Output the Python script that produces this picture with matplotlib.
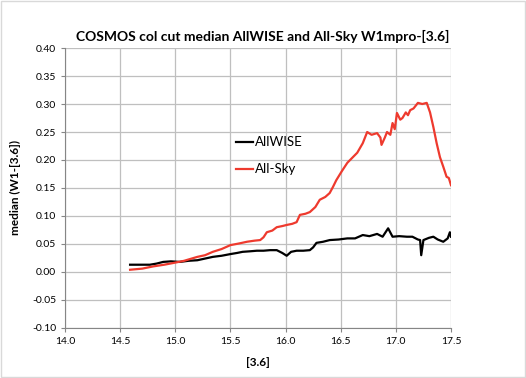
import matplotlib
matplotlib.use("Agg")
import matplotlib.pyplot as plt

plt.rcParams['font.family'] = ['Lato', 'DejaVu Sans']

allsky_x = [14.59, 14.70, 14.80, 14.90, 14.98, 15.08, 15.20, 15.27, 15.34, 15.42, 15.50,
            15.58, 15.65, 15.72, 15.77, 15.80, 15.83, 15.88, 15.92, 15.97, 16.01, 16.06,
            16.10, 16.13, 16.18, 16.22, 16.27, 16.31, 16.36, 16.40, 16.43, 16.46, 16.51,
            16.56, 16.60, 16.65, 16.70, 16.74, 16.78, 16.83, 16.86, 16.87, 16.90, 16.92,
            16.95, 16.97, 16.99, 17.01, 17.04, 17.06, 17.09, 17.11, 17.13, 17.16, 17.20,
            17.24, 17.28, 17.31, 17.34, 17.37, 17.40, 17.43, 17.46, 17.48, 17.50]
allsky_y = [0.004, 0.006, 0.010, 0.013, 0.016, 0.020, 0.027, 0.030, 0.036, 0.041, 0.048,
            0.051, 0.054, 0.056, 0.057, 0.062, 0.071, 0.074, 0.080, 0.082, 0.084, 0.086,
            0.089, 0.102, 0.104, 0.107, 0.116, 0.129, 0.134, 0.141, 0.152, 0.164, 0.180,
            0.195, 0.203, 0.213, 0.230, 0.250, 0.245, 0.248, 0.240, 0.227, 0.240, 0.250,
            0.245, 0.266, 0.255, 0.284, 0.272, 0.275, 0.285, 0.280, 0.289, 0.292, 0.302,
            0.300, 0.302, 0.285, 0.259, 0.230, 0.205, 0.188, 0.170, 0.168, 0.155]

allwise_x = [14.59, 14.68, 14.77, 14.83, 14.89, 14.96, 15.04, 15.12, 15.20, 15.27, 15.34,
             15.42, 15.50, 15.56, 15.61, 15.68, 15.74, 15.80, 15.86, 15.92, 15.97, 16.01,
             16.05, 16.10, 16.16, 16.22, 16.25, 16.28, 16.34, 16.40, 16.48, 16.56, 16.63,
             16.70, 16.76, 16.83, 16.88, 16.93, 16.97, 17.03, 17.10, 17.15, 17.20, 17.22,
             17.23, 17.25, 17.30, 17.34, 17.38, 17.43, 17.47, 17.49, 17.50]
allwise_y = [0.013, 0.013, 0.013, 0.015, 0.018, 0.019, 0.018, 0.020, 0.021, 0.024, 0.027,
             0.029, 0.032, 0.034, 0.036, 0.037, 0.038, 0.038, 0.039, 0.039, 0.034, 0.029,
             0.036, 0.038, 0.038, 0.039, 0.044, 0.052, 0.054, 0.057, 0.058, 0.060, 0.060,
             0.066, 0.064, 0.068, 0.063, 0.078, 0.063, 0.064, 0.063, 0.063, 0.058, 0.057,
             0.030, 0.057, 0.061, 0.063, 0.058, 0.054, 0.060, 0.071, 0.063]

xticks = [14.0, 14.5, 15.0, 15.5, 16.0, 16.5, 17.0, 17.5]
yticks = [-0.10, -0.05, 0.00, 0.05, 0.10, 0.15, 0.20, 0.25, 0.30, 0.35, 0.40]

fig = plt.figure(figsize=(5.26, 3.78), dpi=100)
ax = fig.add_axes([0.1236, 0.1323, 0.7338, 0.7407])

ax.plot(allwise_x, allwise_y, color='black', lw=1.6, label='AllWISE', zorder=3)
ax.plot(allsky_x, allsky_y, color='#ee3a2e', lw=1.6, label='All-Sky', zorder=3)

ax.set_xlim(14.0, 17.5)
ax.set_ylim(-0.10, 0.40)
ax.set_xticks(xticks)
ax.set_xticklabels([f"{v:.1f}" for v in xticks])
ax.set_yticks(yticks)
ax.set_yticklabels([f"{v:.2f}" for v in yticks])
ax.grid(True, color='#bfbfbf', lw=0.9, zorder=0)
ax.set_axisbelow(True)
for s in ['top', 'right']:
    ax.spines[s].set_visible(False)
for s in ['left', 'bottom']:
    ax.spines[s].set_color('#868686')
ax.tick_params(axis='both', colors='#868686', labelcolor='black', labelsize=7.5,
               length=3, direction='out')

ax.set_xlabel('[3.6]', fontsize=8.5, fontweight='bold', labelpad=8)
ax.set_ylabel('median (W1-[3.6])', fontsize=8.5, fontweight='bold', labelpad=8)
fig.suptitle('COSMOS col cut median AllWISE and All-Sky W1mpro-[3.6]',
             fontsize=10, fontweight='bold', y=0.92)

leg = ax.legend(loc='upper left', bbox_to_anchor=(0.443, 0.685), frameon=False,
                fontsize=9.5, handlelength=1.3, handletextpad=0.15, labelspacing=1.15,
                borderpad=0, borderaxespad=0)

fig.patches.append(plt.Rectangle((0.002, 0.003), 0.996, 0.994, transform=fig.transFigure,
                                 fill=False, edgecolor='#d9d9d9', lw=1))
fig.savefig('out.png', dpi=100)
